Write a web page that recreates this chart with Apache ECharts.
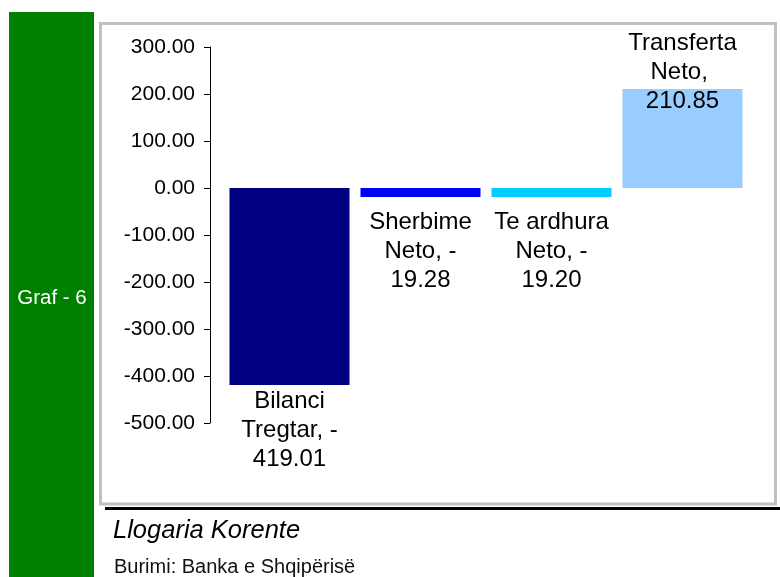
<!DOCTYPE html>
<html>
<head>
<meta charset="utf-8">
<script src="https://cdn.jsdelivr.net/npm/echarts@6/dist/echarts.min.js"></script>
<style>
  html, body { margin: 0; padding: 0; background: #fff; }
  #chart { width: 780px; height: 577px; }
</style>
</head>
<body>
<div id="chart"></div>
<script>
// categories (wrapped the way the labels appear) and values
const categories = ['Bilanci\nTregtar', 'Sherbime\nNeto', 'Te ardhura\nNeto', 'Transferta\nNeto']
const values = [-419.01, -19.28, -19.20, 210.85]
const barColors = ['#000080', '#0000ff', '#00ccff', '#99ccff']
const yTicks = [-500, -400, -300, -200, -100, 0, 100, 200, 300]

// label placement per bar
const labelPos = [
  { position: 'bottom', distance: 2 },
  { position: 'bottom', distance: 11 },
  { position: 'bottom', distance: 11 },
  { position: 'top', distance: -27 }
]

const chart = echarts.init(document.getElementById('chart'))

const fmtLabel = p => {
  const v = p.value
  return p.name + ', ' + (v < 0 ? '-\n' + Math.abs(v).toFixed(2) : '\n' + v.toFixed(2))
}

const option = {
  animation: false,
  grid: { left: 224, right: 32, top: 47, bottom: 154 },
  xAxis: {
    type: 'category',
    data: categories,
    show: false
  },
  yAxis: {
    type: 'value',
    min: yTicks[0],
    max: yTicks[yTicks.length - 1],
    interval: 100,
    offset: 14,
    axisLine: { show: true, lineStyle: { color: '#000', width: 1 } },
    axisTick: { show: true, length: 6, lineStyle: { color: '#000' } },
    splitLine: { show: false },
    axisLabel: {
      color: '#000',
      fontFamily: 'Liberation Sans, Arial, sans-serif',
      fontSize: 21,
      margin: 15,
      formatter: v => v.toFixed(2)
    }
  },
  series: [{
    type: 'bar',
    barWidth: 120,
    data: values.map((v, i) => ({
      value: v,
      itemStyle: { color: barColors[i] },
      label: labelPos[i]
    })),
    label: {
      show: true,
      formatter: fmtLabel,
      color: '#000',
      fontFamily: 'Liberation Sans, Arial, sans-serif',
      fontSize: 24,
      lineHeight: 29,
      align: 'center'
    }
  }],
  graphic: [
    {
      type: 'rect', z: -10, silent: true,
      shape: { x: 9, y: 12, width: 85, height: 565 },
      style: { fill: '#008000' }
    },
    {
      type: 'text', z: 10, silent: true,
      x: 52, y: 298,
      style: {
        text: 'Graf - 6', fill: '#fff',
        font: '20.5px "Liberation Sans", Arial, sans-serif',
        align: 'center', verticalAlign: 'middle'
      }
    },
    {
      type: 'rect', z: -10, silent: true,
      shape: { x: 100.5, y: 23.5, width: 675, height: 480.5 },
      style: { fill: '#fff', stroke: '#c0c0c0', lineWidth: 3 }
    },
    {
      type: 'rect', z: -10, silent: true,
      shape: { x: 105, y: 507, width: 675, height: 3 },
      style: { fill: '#000' }
    },
    {
      type: 'text', z: 10, silent: true,
      x: 113, y: 531,
      style: {
        text: 'Llogaria Korente', fill: '#000',
        font: 'italic 25.5px "Liberation Sans", Arial, sans-serif',
        align: 'left', verticalAlign: 'middle'
      }
    },
    {
      type: 'text', z: 10, silent: true,
      x: 114, y: 567,
      style: {
        text: 'Burimi: Banka e Shqipërisë', fill: '#111',
        font: '20px "Liberation Sans", Arial, sans-serif',
        align: 'left', verticalAlign: 'middle'
      }
    }
  ]
}

chart.setOption(option)
</script>
</body>
</html>
